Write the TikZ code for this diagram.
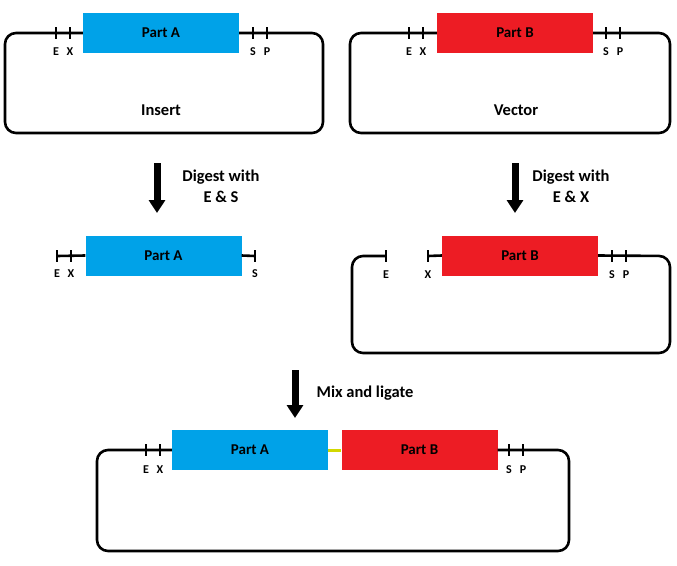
\documentclass[tikz,border=0pt]{standalone}
\usepackage{fontspec}
\setmainfont{Carlito}
\usetikzlibrary{arrows.meta}
\definecolor{partblue}{HTML}{00A2E8}
\definecolor{partred}{HTML}{ED1C24}
\definecolor{ligyellow}{HTML}{D2D800}
\tikzset{
  partbox/.style={minimum width=156pt, minimum height=40pt, inner sep=0pt, font=\fontsize{15}{15}\selectfont\bfseries},
  bluepart/.style={partbox, fill=partblue},
  redpart/.style={partbox, fill=partred},
  ring/.style={line width=2.6pt, rounded corners=11pt, line join=round},
  tick/.style={line width=1.8pt},
  sitelab/.style={font=\fontsize{12}{12}\selectfont\bfseries, inner sep=0pt},
  biglab/.style={font=\fontsize{16.5}{16.5}\selectfont\bfseries, inner sep=0pt},
  steplab/.style={font=\fontsize{16.5}{21}\selectfont\bfseries, align=center, inner sep=0pt},
  bigarrow/.style={line width=7pt, -{Triangle[width=16pt,length=13pt]}},
}
\begin{document}
\begin{tikzpicture}[x=1pt,y=-1pt]
\useasboundingbox (0,0) rectangle (677,565);
% ---------- Insert ----------
\node[bluepart] (pa1) at (161,33) {Part A};
\draw[ring] (pa1.west) -- (5,33) -- (5,133) -- (323,133) -- (323,33) -- (pa1.east);
\foreach \x/\l in {56/E,70/X,253/S,267/P}{
  \draw[tick] (\x,27) -- (\x,39);
  \node[sitelab] (ins\l) at (\x,52) {\l};
}
\node[biglab] (insert) at (161,110) {Insert};
% ---------- Vector ----------
\node[redpart] (pb1) at (515,33) {Part B};
\draw[ring] (pb1.west) -- (350,33) -- (350,133) -- (670,133) -- (670,33) -- (pb1.east);
\foreach \x/\l in {409/E,423/X,606/S,620/P}{
  \draw[tick] (\x,27) -- (\x,39);
  \node[sitelab] (vec\l) at (\x,52) {\l};
}
\node[biglab] (vector) at (516,110) {Vector};
% ---------- arrows ----------
\coordinate (a1s) at (157,163); \coordinate (a1e) at (157,213);
\draw[bigarrow] (a1s) -- (a1e);
\node[steplab] (dig1) at (221,186) {Digest with\\E \& S};
\coordinate (a2s) at (515,163); \coordinate (a2e) at (515,213);
\draw[bigarrow] (a2s) -- (a2e);
\node[steplab] (dig2) at (571,186) {Digest with\\E \& X};
% ---------- fragment A ----------
\node[bluepart] (pa2) at (163.5,255.5) {Part A};
\coordinate (fE) at (57,256); \coordinate (fS) at (255,256);
\draw[line width=2.6pt] (fE) -- (pa2.west);
\draw[line width=2.6pt] (pa2.east) -- (fS);
\foreach \x/\l in {57/E,71/X,255/S}{
  \draw[tick] (\x,250) -- (\x,262);
  \node[sitelab] (frag\l) at (\x,274) {\l};
}
% ---------- cut vector ----------
\node[redpart] (pb2) at (520,255.5) {Part B};
\coordinate (cE) at (386,256); \coordinate (cX) at (428,256);
\draw[ring] (cE) -- (352,256) -- (352,353) -- (670,353) -- (670,256) -- (pb2.east);
\draw[line width=2.6pt] (cX) -- (pb2.west);
\foreach \x/\l in {386/E,428/X,612/S,626/P}{
  \draw[tick] (\x,250) -- (\x,262);
  \node[sitelab] (cut\l) at (\x,275) {\l};
}
% ---------- ligation ----------
\coordinate (a3s) at (295,370); \coordinate (a3e) at (295,418);
\draw[bigarrow] (a3s) -- (a3e);
\node[biglab] (mix) at (365,393) {Mix and ligate};
\node[bluepart] (pa3) at (250,450) {Part A};
\node[redpart] (pb3) at (419.5,450) {Part B};
\draw[ring] (pa3.west) -- (97,450) -- (97,551) -- (569,551) -- (569,450) -- (pb3.east);
\draw[line width=3pt, ligyellow] (pa3.east) -- (pb3.west);
\foreach \x/\l in {146/E,160/X,509/S,523/P}{
  \draw[tick] (\x,444) -- (\x,456);
  \node[sitelab] (lig\l) at (\x,470) {\l};
}
\end{tikzpicture}
\end{document}
